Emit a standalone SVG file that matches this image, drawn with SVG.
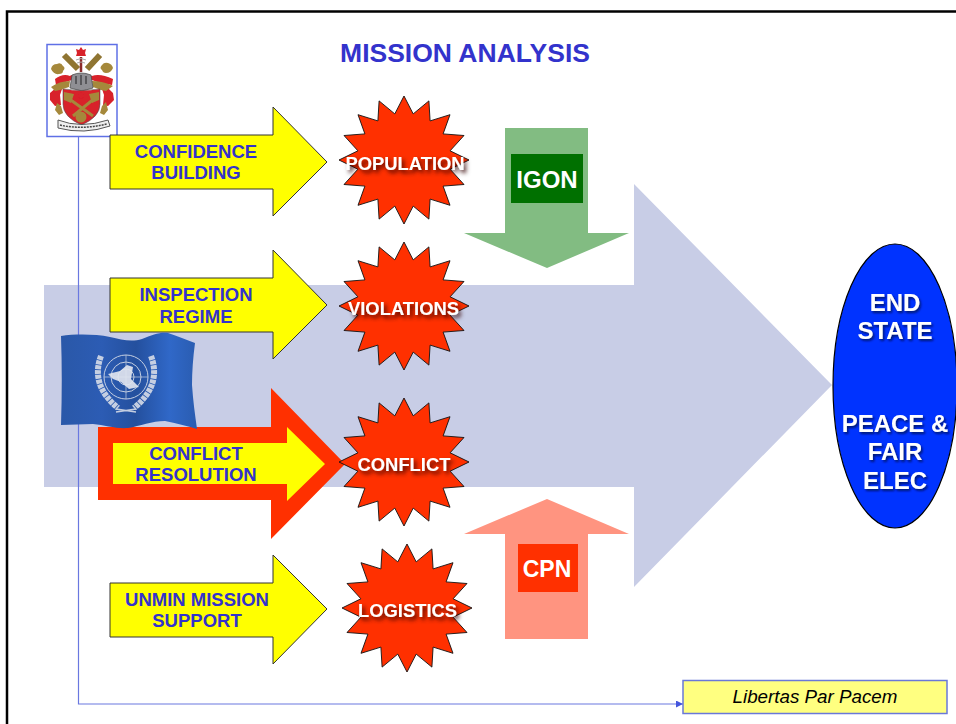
<svg xmlns="http://www.w3.org/2000/svg" xmlns:xlink="http://www.w3.org/1999/xlink" width="956" height="724" viewBox="0 0 956 724">
<style>
text{font-family:"Liberation Sans",Arial,sans-serif;text-anchor:middle}
.lbl{font-weight:bold;font-size:18.5px;fill:#3333cc}
.star{fill:#ff3000;stroke:#111;stroke-width:.9}
.yel{fill:#ffff00;stroke:#333;stroke-width:1}
.st{font-weight:bold;font-size:18.400px;fill:#fff;filter:url(#sh)}
.big{font-weight:bold;font-size:24px;fill:#fff}
.shd{filter:url(#sh2)}
.tan{fill:#a5883a}
.red{fill:#d8202a}
</style>
<defs>
<filter id="sh" x="-20%" y="-50%" width="140%" height="220%"><feDropShadow dx="2.500" dy="3" stdDeviation="2" flood-color="#300" flood-opacity="0.9"/></filter>
<filter id="sh2" x="-20%" y="-20%" width="140%" height="140%"><feDropShadow dx="1.500" dy="2" stdDeviation="1.200" flood-color="#001050" flood-opacity="0.8"/></filter>
<filter id="soft" x="-5%" y="-5%" width="110%" height="110%"><feGaussianBlur stdDeviation="0.600"/></filter>
<marker id="ah" markerWidth="8" markerHeight="8" refX="7" refY="3.500" orient="auto" markerUnits="userSpaceOnUse"><path d="M0 0L7 3.500L0 7z" fill="#4455dd"/></marker>
<polygon id="burst" points="0,-64 9.2,-46.1 24.9,-59.1 26.1,-39.1 46,-45.3 39.1,-26.1 60,-24.5 46.1,-9.2 65,0 46.1,9.2 60,24.5 39.1,26.1 46,45.3 26.1,39.1 24.9,59.1 9.2,46.1 0,64 -9.2,46.1 -24.9,59.1 -26.1,39.1 -46,45.3 -39.1,26.1 -60,24.5 -46.1,9.2 -65,0 -46.1,-9.2 -60,-24.5 -39.1,-26.1 -46,-45.3 -26.1,-39.1 -24.9,-59.1 -9.2,-46.1"/>
<linearGradient id="fg" x1="0" x2="1" y1="0" y2="0"><stop offset="0" stop-color="#2a58a8"/><stop offset=".3" stop-color="#2c5cb4"/><stop offset=".55" stop-color="#24509e"/><stop offset=".8" stop-color="#3068c8"/><stop offset="1" stop-color="#2a5cb0"/></linearGradient>
</defs>
<rect width="956" height="724" fill="#fff"/>
<path d="M7 724V11.500H956" fill="none" stroke="#000" stroke-width="2.500"/>
<polygon id="main-arrow" points="44,285 634,285 634,184 832,385 634,587 634,487 44,487" fill="#c8cde6"/>
<g id="connectors"><path d="M78.500 136V704H683" fill="none" stroke="#6a78e0" stroke-width="1.200" marker-end="url(#ah)"/></g>
<text x="465" y="62" font-size="26.500" font-weight="bold" fill="#3333cc">MISSION ANALYSIS</text>

<g id="logo">
<rect x="47" y="44.500" width="70" height="92" fill="#fff" stroke="#5f70e6" stroke-width="1.500"/>
<g filter="url(#soft)">
<path d="M64 55L78 69M100 55L87 69" stroke="#8f7430" stroke-width="6" fill="none"/>
<path d="M81 47l2 3 3-1-1 4 1 3h-10l1-3-1-4 3 1z" fill="#d8202a"/>
<path d="M81 57v15" stroke="#8c2a2a" stroke-width="2.500"/>
<path d="M76 60q5-3 10 0M77 63q4-2 8 0" stroke="#aaa" fill="none"/>
<path class="tan" d="M51 69q1-5 6-5q4-2 6 2q3 2 0 5q0 3-4 3q-5 1-8-5zM113 68q-1-4-5-5q-4-1-6 2q-3 3 0 5q1 3 4 3q5 0 7-5z"/>
<path class="red" d="M55 79q8-6 15-3q3-3 22 0q8-3 21 3l-1 6-12-2-8-3H72l-10 3-6 2zM50 93l7-6 5 2-2 6 1 10-6 1-5-6zM113 93l-6-6-5 2 2 6-1 10 5 1 6-6z"/>
<path class="tan" d="M51 87q8-6 19-6l-1 6-9 3-5 1zM113 86q-10-5-21-5l1 6 8 3 5 1z"/>
<path class="tan" d="M57 103l4 3 2 7-4 2-4-5zM106 102l-4 4-2 7 4 2 4-5z"/>
<path d="M72 75q9-4 19 0l2 13-11 3-12-3z" fill="#8f8f94" stroke="#444" stroke-width=".7"/>
<path d="M81 75v10M76 76v8M86 76v8" stroke="#222"/>
<path class="red" d="M63 89q18 3 37 0v15q0 13-18.500 21q-18.500-8-18.500-21z" stroke="#555" stroke-width=".6"/>
<path d="M68 98L93 116M95 98L73 116" stroke="#a5883a" stroke-width="3"/>
<path class="tan" d="M64 92l10 2-3 9-7-3zM99 92l-10 2 3 9 7-3z"/>
<path class="red" d="M81 91l3 5-3 4-3-4z"/>
<circle cx="81" cy="117" r="5.500" fill="#a5883a"/>
<path d="M58 120q23 9 50 0l2 6q-26 9-52 2z" fill="#eee" stroke="#555"/>
<path d="M60 125q22 5 47-1" stroke="#444" stroke-width="1.500" stroke-dasharray="2 1" fill="none"/>
</g>
</g>

<g id="arrow-confidence"><polygon class="yel" points="110,135 273,135 273,107 327,162 273,216 273,189 110,189"/><text class="lbl" x="196" y="158">CONFIDENCE</text><text class="lbl" x="196" y="179">BUILDING</text></g>
<g id="arrow-inspection"><polygon class="yel" points="110,278 273,278 273,250 327,305 273,359 273,332 110,332"/><text class="lbl" x="196" y="301">INSPECTION</text><text class="lbl" x="196" y="323">REGIME</text></g>
<g id="arrow-conflict"><polygon fill="#ff3000" points="98,427 271,427 271,388 345,464 271,539 271,500 98,500"/><polygon fill="#ffff00" points="113,443 287,443 287,427 325,464 287,501 287,484 113,484"/><text class="lbl" x="196" y="460">CONFLICT</text><text class="lbl" x="196" y="481">RESOLUTION</text></g>
<g id="arrow-unmin"><polygon class="yel" points="110,583 273,583 273,555 327,609 273,664 273,637 110,637"/><text class="lbl" x="197" y="606">UNMIN MISSION</text><text class="lbl" x="197" y="627">SUPPORT</text></g>

<g id="flag">
<path d="M61 336C75 334 95 334 110 337C122 340 132 342 142 339C152 335 160 332 168 333C178 336 186 340 195 343C193 358 192 372 192 385C193 400 195 415 197 429C187 426 176 423 165 421C152 421 140 426 128 428C116 429 105 425 93 424C82 424 72 425 61 425C62 395 62 365 61 336Z" fill="url(#fg)"/>
<g fill="none" stroke="#d6dce8" opacity=".9">
<circle cx="126" cy="377" r="22" stroke-width="1"/><circle cx="126" cy="377" r="15" stroke-width="1"/><circle cx="126" cy="377" r="8" stroke-width="1"/>
<path d="M104 377H148M126 355V399" stroke-width=".7"/>
<path d="M101 356Q90 385 118 408M151 356Q162 385 134 408" stroke-width="6" stroke-dasharray="4 .8"/>
<path d="M116 409L136 412M136 409L116 412" stroke-width="1.500"/>
</g>
<path d="M108 374l12-3 7-6 6 2-2 12 8 8-10 2-8-7-8-3z" fill="#dfe4ee" opacity=".92"/>
</g>

<g id="star-population"><use xlink:href="#burst" href="#burst" class="star" x="404" y="160"/><text class="st" x="405" y="170">POPULATION</text></g>
<g id="star-violations"><use xlink:href="#burst" href="#burst" class="star" x="404" y="306"/><text class="st" x="403.500" y="315">VIOLATIONS</text></g>
<g id="star-conflict"><use xlink:href="#burst" href="#burst" class="star" x="404" y="462"/><text class="st" x="404" y="471">CONFLICT</text></g>
<g id="star-logistics"><use xlink:href="#burst" href="#burst" class="star" x="407" y="608"/><text class="st" x="407.500" y="617">LOGISTICS</text></g>

<g id="igon"><polygon fill="#82bc82" points="505,128 588,128 588,233 629,233 547,268 464,233 505,233"/><rect x="511" y="154" width="72" height="49" fill="#007000"/><text class="big" x="547" y="188">IGON</text></g>
<g id="cpn"><polygon fill="#ff9480" points="505,639 588,639 588,534 629,534 547,499 464,534 505,534"/><rect x="518" y="544" width="60" height="48" fill="#ff3000"/><text class="big" x="547" y="577" style="font-size:23px">CPN</text></g>

<g id="end-state"><ellipse cx="895" cy="386" rx="62" ry="142" fill="#0033ff" stroke="#000" stroke-width="1.200"/>
<g class="shd"><text class="big" x="895" y="311">END</text><text class="big" x="895" y="339">STATE</text><text class="big" x="895" y="432">PEACE &amp;</text><text class="big" x="895" y="460">FAIR</text><text class="big" x="895" y="489">ELEC</text></g></g>

<g id="motto"><rect x="683" y="680.500" width="264" height="33" fill="#ffff80" stroke="#6a78d8" stroke-width="1.500"/><text x="815" y="703" font-size="18.800" font-style="italic" fill="#000">Libertas Par Pacem</text></g>
</svg>
